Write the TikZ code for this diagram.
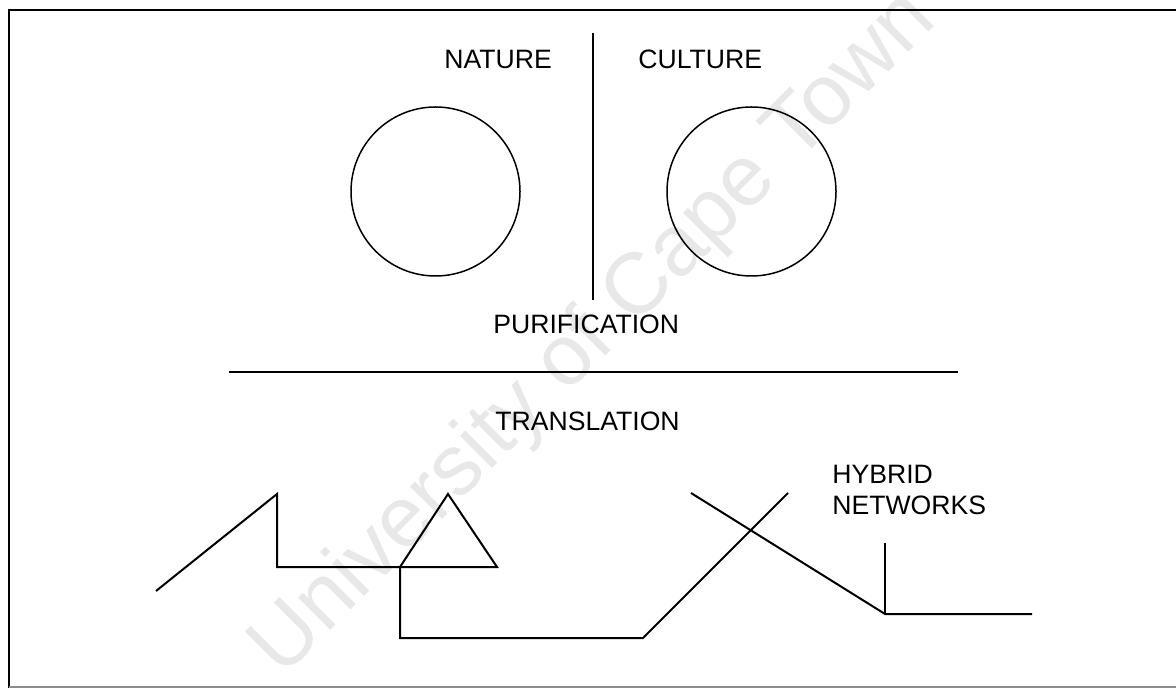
\documentclass[tikz,border=0pt]{standalone}
\usepackage{fontspec}
\setmainfont{Liberation Sans}
\begin{document}
\begin{tikzpicture}[x=0.5pt,y=-0.5pt,
  lbl/.style={inner sep=0pt,font=\fontsize{13.3}{15.5}\selectfont},
  ln/.style={line width=1pt,line cap=butt,line join=miter},
  circ/.style={draw,circle,line width=0.75pt,minimum size=169*0.5pt,inner sep=0pt},
  wm/.style={inner sep=0pt,text=black!9,font=\fontsize{43}{43}\selectfont,rotate=45}]
\useasboundingbox (0,0) rectangle (1176,688);
\clip (0,0) rectangle (1176,688);
% watermark
\node[wm] (wmark) at (595,335) {University of Cape Town};
% frame
\draw[line width=1.4pt] (9,688) -- (9,10) -- (1190,10);
\draw[line width=0.8pt,black!45] (9,687) -- (1190,687);
% top part
\draw[ln] (593,33) coordinate (dtop) -- (593,300) coordinate (dbot);
\node[lbl,anchor=base west] (nature) at (444,69) {NATURE};
\node[lbl,anchor=base west] (culture) at (638,69) {CULTURE};
\node[circ] (cn) at (435.5,191.5) {};
\node[circ] (cc) at (751.5,191.5) {};
\node[lbl,anchor=base west] (purif) at (493,334) {PURIFICATION};
\draw[ln] (229,372) coordinate (hl) -- (958,372) coordinate (hr);
\node[lbl,anchor=base west] (transl) at (495,431) {TRANSLATION};
\node[lbl,anchor=north west,align=left] (hybrid) at (832,465) {HYBRID\\NETWORKS};
% hybrid network lines
\coordinate (a1) at (156,591);
\coordinate (a2) at (277,494);
\coordinate (a3) at (277,567);
\coordinate (a4) at (400,567);
\coordinate (t1) at (448,494);
\coordinate (t2) at (497,567);
\coordinate (b1) at (400,638);
\coordinate (b2) at (643,638);
\coordinate (b3) at (788,493);
\coordinate (c1) at (691,493);
\coordinate (c2) at (885,614);
\coordinate (c3) at (885,543);
\coordinate (c4) at (1032,614);
\draw[ln] (a1) -- (a2) -- (a3) -- (a4);
\draw[ln] (a4) -- (t1) -- (t2) -- cycle;
\draw[ln] (a4) -- (b1) -- (b2) -- (b3);
\draw[ln] (c1) -- (c2) -- (c4);
\draw[ln] (c2) -- (c3);
\end{tikzpicture}
\end{document}
